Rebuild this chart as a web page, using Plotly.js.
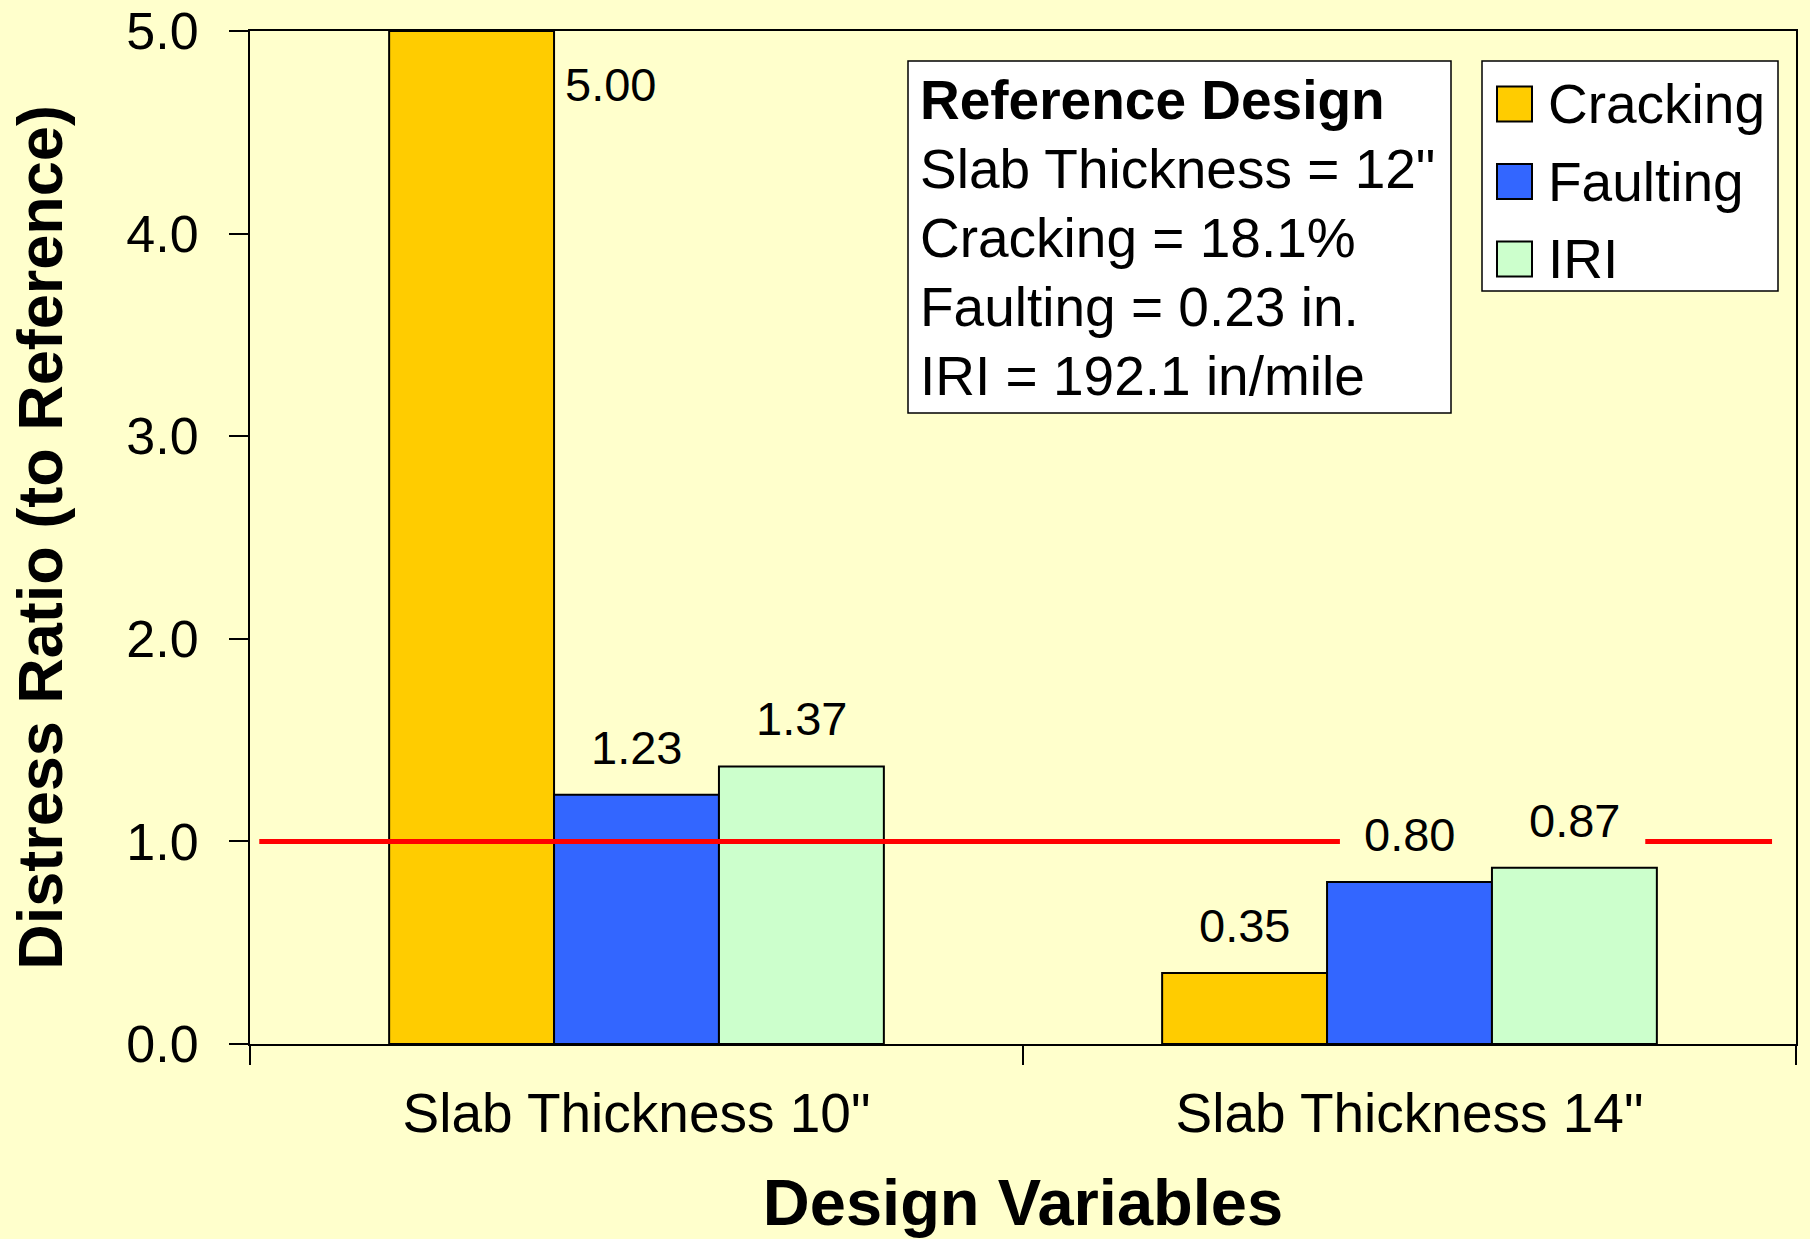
<!DOCTYPE html>
<html><head><meta charset="utf-8">
<script src="https://cdn.plot.ly/plotly-3.0.1.min.js"></script>
<style>html,body{margin:0;padding:0;background:#FFFFCC;} #chart{width:1810px;height:1239px;}</style>
</head><body><div id="chart"></div>
<script>
// ---- data ----
const categories = ['Slab Thickness 10"', 'Slab Thickness 14"'];
const seriesNames = ['Cracking', 'Faulting', 'IRI'];
const cracking = [5.00, 0.35];
const faulting = [1.23, 0.80];
const iri = [1.37, 0.87];
const seriesColors = ['#FFCC00', '#3366FF', '#CCFFCC'];
const yTickVals = [0, 1, 2, 3, 4, 5];
const referenceRatio = 1.0;
const referenceTitle = 'Reference Design';
const referenceLines = ['Slab Thickness = 12"', 'Cracking = 18.1%', 'Faulting = 0.23 in.', 'IRI = 192.1 in/mile'];
const xTitle = 'Design Variables';
const yTitle = 'Distress Ratio (to Reference)';

// ---- layout geometry ----
const W = 1810, H = 1239;
const M = {l: 250, r: 14, t: 31, b: 195};
const PW = W - M.l - M.r, PH = H - M.t - M.b;
const px = x => (x - M.l) / PW;            // pixel -> paper x
const py = y => (H - M.b - y) / PH;        // pixel -> paper y
const FONT = '"Liberation Sans", Arial, Helvetica, sans-serif';
const yMax = 5;
const barGap = 0.36;
const seriesValues = [cracking, faulting, iri];
const nS = seriesNames.length;
const barW = (1 - barGap) / nS;

const traces = seriesNames.map((name, i) => ({
  type: 'bar', name: name, x: categories, y: seriesValues[i],
  marker: {color: seriesColors[i], line: {color: '#000000', width: 2}},
  showlegend: false, hoverinfo: 'skip'
}));

const annotations = [];
const labelFont = {family: FONT, size: 47, color: '#000000'};
seriesValues.forEach((vals, i) => vals.forEach((v, j) => {
  const xc = j + (i - (nS - 1) / 2) * barW;
  if (v >= yMax) {
    annotations.push({x: xc + barW / 2, y: yMax, xref: 'x', yref: 'y', text: v.toFixed(2),
      showarrow: false, xanchor: 'left', yanchor: 'top', xshift: 9, yshift: -25, font: labelFont});
  } else {
    annotations.push({x: xc, y: v, xref: 'x', yref: 'y', text: v.toFixed(2),
      showarrow: false, xanchor: 'center', yanchor: 'bottom', yshift: 19, font: labelFont});
  }
}));

// Reference design text box
const refFont = {family: FONT, size: 55, color: '#000000'};
const refLeft = 918, refFirst = 100, refStep = 69;
[('<b>' + referenceTitle + '</b>')].concat(referenceLines).forEach((t, k) => {
  annotations.push({xref: 'paper', yref: 'paper', x: px(refLeft), y: py(refFirst + k * refStep),
    text: t, showarrow: false, xanchor: 'left', yanchor: 'middle', font: refFont});
});

// Custom legend
const shapes = [];
const legTop = 104, legStep = 77.5;
seriesNames.forEach((name, i) => {
  const cy = legTop + i * legStep;
  shapes.push({type: 'rect', xref: 'paper', yref: 'paper', x0: px(1497), x1: px(1532),
    y0: py(cy - 17.5), y1: py(cy + 17.5), fillcolor: seriesColors[i], line: {color: '#000000', width: 2}});
  annotations.push({xref: 'paper', yref: 'paper', x: px(1546), y: py(cy), text: name,
    showarrow: false, xanchor: 'left', yanchor: 'middle', font: refFont});
});

// boxes
shapes.unshift({type: 'rect', xref: 'paper', yref: 'paper', x0: px(1482), x1: px(1778),
  y0: py(291), y1: py(61), fillcolor: '#FFFFFF', line: {color: '#000000', width: 1.5}});
shapes.unshift({type: 'rect', xref: 'paper', yref: 'paper', x0: px(908), x1: px(1451),
  y0: py(413), y1: py(61), fillcolor: '#FFFFFF', line: {color: '#000000', width: 1.5}});

// reference ratio line (broken where the 14" labels sit)
[[-0.488, 0.910], [1.305, 1.469]].forEach(seg => {
  shapes.push({type: 'line', xref: 'x', yref: 'y', x0: seg[0], x1: seg[1],
    y0: referenceRatio, y1: referenceRatio, line: {color: '#FF0000', width: 5}});
});

const layout = {
  width: W, height: H,
  margin: M,
  paper_bgcolor: '#FFFFCC', plot_bgcolor: '#FFFFCC',
  barmode: 'group', bargap: barGap, bargroupgap: 0,
  font: {family: FONT, color: '#000000'},
  showlegend: false,
  xaxis: {
    type: 'category', range: [-0.5, 1.5], fixedrange: true,
    showline: true, mirror: true, linecolor: '#000000', linewidth: 2,
    ticks: 'outside', tickson: 'boundaries', ticklen: 19, tickwidth: 2, tickcolor: '#000000',
    showgrid: false, zeroline: false,
    tickfont: {family: FONT, size: 55, color: '#000000'}, ticklabelstandoff: 20,
    title: {text: xTitle, font: {family: FONT, size: 65, color: '#000000', weight: 700}, standoff: 42},
    automargin: false
  },
  yaxis: {
    range: [0, yMax], fixedrange: true,
    tickvals: yTickVals, tickformat: '.1f', ticklabeloverflow: 'allow',
    showline: true, mirror: true, linecolor: '#000000', linewidth: 2,
    ticks: 'outside', ticklen: 19, tickwidth: 2, tickcolor: '#000000',
    showgrid: false, zeroline: false,
    tickfont: {family: FONT, size: 52, color: '#000000'}, ticklabelstandoff: 20,
    title: {text: yTitle, font: {family: FONT, size: 63, color: '#000000', weight: 700}, standoff: 43},
    automargin: false
  },
  annotations: annotations,
  shapes: shapes
};

Plotly.newPlot('chart', traces, layout, {displayModeBar: false, staticPlot: true});
</script>
</body></html>
